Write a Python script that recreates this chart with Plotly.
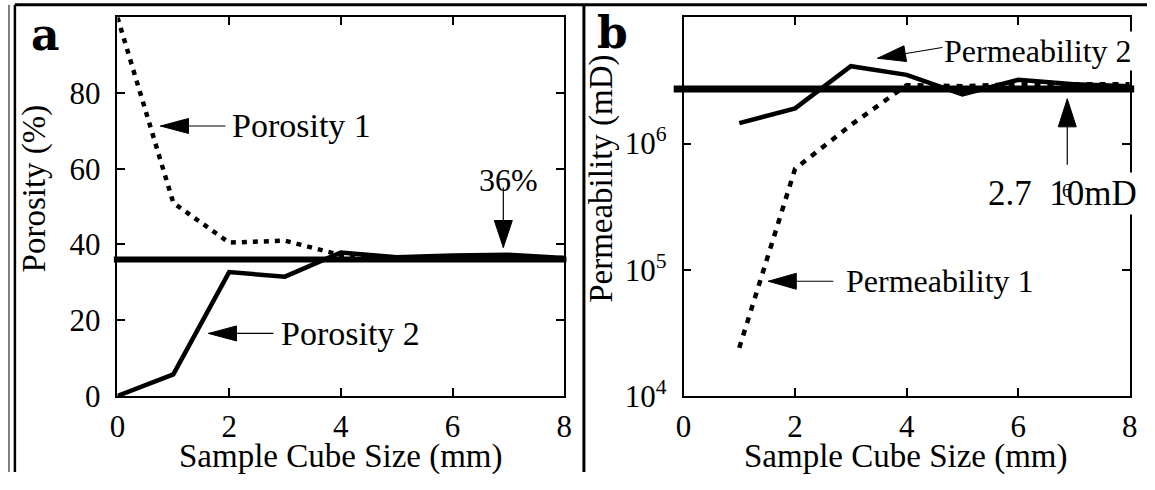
import math
import plotly.graph_objects as go

# Panel a: porosity versus sample cube size
sizes = [0, 1, 2, 3, 4, 5, 6, 7, 8]
porosity_1 = [100, 51, 40.5, 41.0, 37.2, 36.3, 36.5, 36.6, 36.4]
porosity_2 = [0, 5.7, 32.7, 31.5, 37.9, 36.6, 37.1, 37.3, 36.4]
porosity_ref = 36  # %

# Panel b: permeability versus sample cube size
perm_sizes = [1, 2, 3, 4, 5, 6, 7, 8]
permeability_1 = [2.4e4, 6.3e5, 1.4e6, 2.9e6, 2.85e6, 2.95e6, 2.95e6, 2.95e6]
permeability_2 = [1.45e6, 1.9e6, 4.1e6, 3.5e6, 2.45e6, 3.2e6, 2.95e6, 2.85e6]
permeability_ref = 2.7e6  # mD

x_ticks = [0, 2, 4, 6, 8]
porosity_ticks = [0, 20, 40, 60, 80]
perm_ticks = [1e4, 1e5, 1e6]
perm_tick_text = ["10<sup>4</sup>", "10<sup>5</sup>", "10<sup>6</sup>"]

W, H = 1155, 490
SERIF = "Liberation Serif, Times New Roman, serif"
BOLD_LETTER = "DejaVu Serif, Courier New, serif"
TICK_SIZE = 31


def px_x(p):
    return p / W


def px_y(p):
    return (H - p) / H


fig = go.Figure()

solid = dict(color="black", width=4.5)
dotted_a = dict(color="black", width=4.5, dash="5px,6px")
dotted_b = dict(color="black", width=4.5, dash="6px,7px")

fig.add_trace(go.Scatter(x=sizes, y=porosity_1, mode="lines", line=dotted_a,
                         xaxis="x", yaxis="y", name="Porosity 1"))
fig.add_trace(go.Scatter(x=sizes, y=porosity_2, mode="lines", line=solid,
                         xaxis="x", yaxis="y", name="Porosity 2"))
fig.add_trace(go.Scatter(x=perm_sizes, y=permeability_1, mode="lines", line=dotted_b,
                         xaxis="x2", yaxis="y2", name="Permeability 1"))
fig.add_trace(go.Scatter(x=perm_sizes, y=permeability_2, mode="lines", line=solid,
                         xaxis="x2", yaxis="y2", name="Permeability 2"))

tick_font = dict(family=SERIF, size=TICK_SIZE, color="black")
axis_common = dict(
    showline=True, linecolor="black", linewidth=1.5, mirror="allticks",
    ticks="inside", ticklen=8, tickwidth=1.5, tickcolor="black",
    showgrid=False, zeroline=False, tickfont=tick_font,
)
y_dom = [px_y(411), px_y(18)]

fig.update_layout(
    width=W, height=H,
    margin=dict(l=0, r=0, t=0, b=0),
    paper_bgcolor="white", plot_bgcolor="white",
    showlegend=False,
    font=dict(family=SERIF, size=TICK_SIZE, color="black"),
    xaxis=dict(domain=[px_x(111), px_x(564)], range=[0, 8], tickvals=x_ticks,
               anchor="y", ticklabelstandoff=2, **axis_common),
    yaxis=dict(domain=y_dom, range=[0, 100], tickvals=porosity_ticks,
               anchor="x", ticklabelstandoff=9, **axis_common),
    xaxis2=dict(domain=[px_x(685), px_x(1137.5)], range=[0, 8], tickvals=x_ticks,
                anchor="y2", ticklabelstandoff=2, **axis_common),
    yaxis2=dict(domain=y_dom, type="log", range=[4, 7], tickvals=perm_ticks,
                ticktext=perm_tick_text, anchor="x2", ticklabelstandoff=9,
                **axis_common),
)

shapes = []
# reference levels
shapes.append(dict(type="line", xref="x domain", yref="y", x0=-0.008, x1=1.005,
                   y0=porosity_ref, y1=porosity_ref, line=dict(color="black", width=6)))
shapes.append(dict(type="line", xref="x2 domain", yref="y2", x0=-0.022, x1=1.01,
                   y0=permeability_ref, y1=permeability_ref,
                   line=dict(color="black", width=7)))

# outer frame and panel divider
shapes.append(dict(type="line", xref="paper", yref="paper", x0=px_x(7), x1=1,
                   y0=px_y(5), y1=px_y(5), line=dict(color="black", width=3)))
shapes.append(dict(type="line", xref="paper", yref="paper", x0=px_x(7), x1=px_x(7),
                   y0=0, y1=px_y(5), line=dict(color="black", width=2.5)))
shapes.append(dict(type="line", xref="paper", yref="paper", x0=px_x(1), x1=px_x(1),
                   y0=0, y1=px_y(5), line=dict(color="black", width=1)))
shapes.append(dict(type="line", xref="paper", yref="paper", x0=px_x(584), x1=px_x(584),
                   y0=0, y1=px_y(5), line=dict(color="black", width=3)))


def arrow(xref, yref, tip_x, tip_y, dx, dy, head_len=28, head_w=15):
    """Pointer with a filled head at (tip_x, tip_y); tail offset (dx, dy) in screen px."""
    n = math.hypot(dx, dy)
    ux, uy = dx / n, dy / n
    bx, by = ux * head_len, uy * head_len
    qx, qy = -uy * head_w / 2, ux * head_w / 2
    pts = [(0, 0), (bx + qx, by + qy), (bx - qx, by - qy)]
    head_path = "M " + " L ".join(f"{x:.2f},{-y:.2f}" for x, y in pts) + " Z"
    base = dict(type="path", xref=xref, yref=yref, xsizemode="pixel",
                ysizemode="pixel", xanchor=tip_x, yanchor=tip_y)
    stem = dict(base, path=f"M 0,0 L {dx:.2f},{-dy:.2f}",
                line=dict(color="black", width=1.2))
    head = dict(base, path=head_path, fillcolor="black",
                line=dict(color="black", width=1))
    return [stem, head]


shapes += arrow("x", "y", 0.77, 71.3, 65, 0)
shapes += arrow("x", "y", 1.63, 16.5, 65, 0)
shapes += arrow("x", "y", 6.91, 39.2, 0, -60, head_len=27, head_w=18)
shapes += arrow("x2", "y2", 3.48, 4.74e6, 66, -11, head_len=28, head_w=16)
shapes += arrow("x2", "y2", 6.88, 2.26e6, 0, 66, head_len=28, head_w=18)
shapes += arrow("x2", "y2", 1.52, 8.1e4, 65, 0, head_len=28, head_w=16)
fig.update_layout(shapes=shapes)

poro_font = dict(family=SERIF, size=34, color="black")
perm_font = dict(family=SERIF, size=32, color="black")
title_font = dict(family=SERIF, size=33, color="black")
ann = []


def text(x, y, s, xref="x", yref="y", xanchor="left", font=poro_font, **kw):
    ann.append(dict(x=x, y=y, xref=xref, yref=yref, text=s, showarrow=False,
                    xanchor=xanchor, yanchor="middle", font=font, **kw))


text(2.02, 71.3, "Porosity 1")
text(2.89, 16.5, "Porosity 2")
text(7.0, 57.0, "36%", xanchor="center", font=dict(family=SERIF, size=32, color="black"))
text(4.64, math.log10(5.4e6), "Permeability 2", xref="x2", yref="y2",
     font=perm_font, bgcolor="white")
text(5.43, 5.60, "2.7\u200210mD", xref="x2", yref="y2", bgcolor="white",
     font=dict(family=SERIF, size=35, color="black"))
text(6.87, 5.625, "6", xref="x2", yref="y2", xanchor="center",
     font=dict(family=SERIF, size=19, color="black"))
text(2.88, math.log10(8.1e4), "Permeability 1", xref="x2", yref="y2", font=perm_font)

# panel letters
text(px_x(38), px_y(36), "<b>a</b>", xref="paper", yref="paper", xanchor="center",
     font=dict(family=BOLD_LETTER, size=44, color="black"))
text(px_x(613), px_y(34), "<b>b</b>", xref="paper", yref="paper", xanchor="center",
     font=dict(family=BOLD_LETTER, size=44, color="black"))

# axis titles
text(px_x(337.5), px_y(474), "Sample Cube Size (mm)", xref="paper", yref="paper",
     xanchor="center", font=title_font)
text(px_x(911), px_y(474), "Sample Cube Size (mm)", xref="paper", yref="paper",
     xanchor="center", font=title_font)
text(px_x(27), px_y(196), "Porosity (%)", xref="paper", yref="paper",
     xanchor="center", font=title_font, textangle=-90)
text(px_x(602), px_y(186), "Permeability (mD)", xref="paper", yref="paper",
     xanchor="center", font=title_font, textangle=-90)

fig.update_layout(annotations=ann)

fig.write_html("out.html")
